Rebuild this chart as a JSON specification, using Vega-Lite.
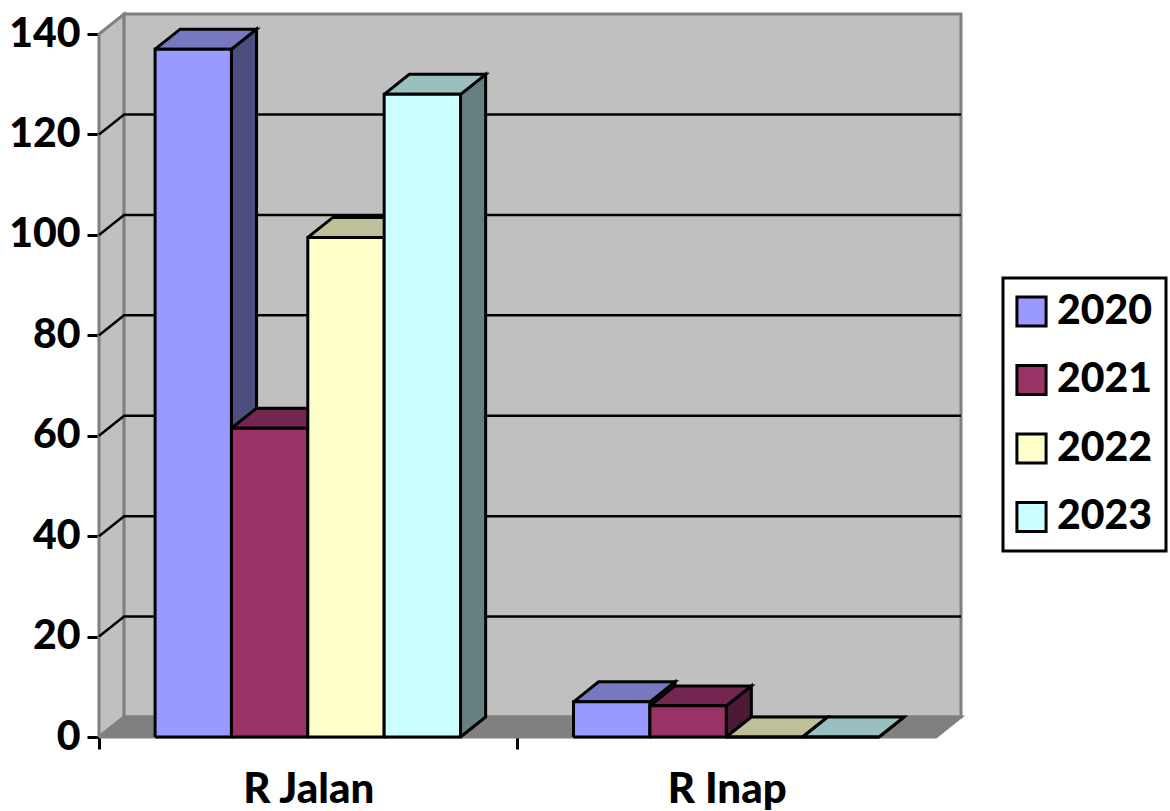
{
"$schema":"https://vega.github.io/schema/vega-lite/v6.json",
"width":862,"height":723,
"autosize":{"type":"none"},
"padding":{"left":99,"top":14,"right":209,"bottom":74},
"background":"white",
"config":{"view":{"stroke":null},"font":"Lato"},
"layer":[
{"data":{"values":[{"part":"left"},{"part":"back"},{"part":"floor"}]},
"transform":[
{"calculate":"datum.part=='left'?[[0,0,0],[0.06,3.98,1],[0.06,144,2],[0,140,3],[0,0,4]]:datum.part=='back'?[[0.06,3.98,0],[2.06,3.98,1],[2.06,144,2],[0.06,144,3],[0.06,3.98,4]]:[[0,0,0],[2,0,1],[2.06,3.98,2],[0.06,3.98,3],[0,0,4]]","as":"verts"},
{"flatten":["verts"]},
{"calculate":"datum.verts[0]","as":"px"},{"calculate":"datum.verts[1]","as":"py"},{"calculate":"datum.verts[2]","as":"i"}],
"mark":{"type":"line","stroke":"#808080","strokeWidth":3,"strokeJoin":"miter"},
"encoding":{
"x":{"field":"px","type":"quantitative","scale":{"domain":[0,2.06],"nice":false,"zero":false},
 "axis":{"title":null,"grid":false,"domain":false,"values":[0,0.5,1,1.5,2],"tickSize":12,"tickWidth":3,"tickColor":"black",
 "tickOpacity":{"condition":{"test":"datum.value==0||datum.value==1","value":1},"value":0},
 "labelExpr":"datum.value==0.5?'R Jalan':datum.value==1.5?'R Inap':''","labelFont":"Lato","labelFontWeight":900,"labelFontSize":42,"labelColor":"black","labelPadding":20,"labelOverlap":false,"labelBound":false,"labelFlush":false}},
"y":{"field":"py","type":"quantitative","scale":{"domain":[0,144],"nice":false,"zero":false},
 "axis":{"title":null,"grid":false,"domain":false,"values":[0,20,40,60,80,100,120,140],"tickSize":12,"tickWidth":3,"tickColor":"black","labelFont":"Lato","labelFontWeight":900,"labelFontSize":41,"labelColor":"black","labelPadding":7,"labelOverlap":false,"labelBound":false,"labelFlush":false}},
"detail":{"field":"part"},
"order":{"field":"i","type":"quantitative"},
"fill":{"field":"part","type":"nominal","scale":{"domain":["2020","2021","2022","2023","2020 top","2021 top","2022 top","2023 top","2020 side","2021 side","2022 side","2023 side","left","back","floor"],"range":["#9999FF","#993366","#FFFFCC","#CCFFFF","#7878C0","#732650","#BFBF99","#99BFBF","#4D4D80","#4D1A33","#808066","#668080","#C0C0C0","#C0C0C0","#808080"]},
"legend":{"title":null,"orient":"none","legendX":904,"legendY":264,"values":["2020","2021","2022","2023"],"symbolType":"square","symbolSize":850,"symbolStrokeColor":"black","symbolStrokeWidth":3,"symbolOffset":-5,"labelFont":"Lato","labelFontWeight":900,"labelFontSize":41,"labelColor":"black","labelOffset":5,"rowPadding":25.5,"padding":13,"strokeColor":"black","labelLimit":200,
"encode":{"symbols":{"update":{"fill":{"field":"value","scale":"fill"},"stroke":{"value":"black"},"opacity":{"value":1}}},"legend":{"update":{"strokeWidth":{"value":3}}}}}}
}},
{"data":{"values":[{"tick":20},{"tick":40},{"tick":60},{"tick":80},{"tick":100},{"tick":120}]},
"transform":[
{"calculate":"[[0,datum.tick,0],[0.06,datum.tick+3.98,1],[2.06,datum.tick+3.98,2]]","as":"verts"},
{"flatten":["verts"]},
{"calculate":"datum.verts[0]","as":"px"},{"calculate":"datum.verts[1]","as":"py"},{"calculate":"datum.verts[2]","as":"i"}],
"mark":{"type":"line","stroke":"black","strokeWidth":2.5},
"encoding":{"x":{"field":"px","type":"quantitative"},"y":{"field":"py","type":"quantitative"},"detail":{"field":"tick"},"order":{"field":"i","type":"quantitative"}}},
{"mark":{"type":"rule","stroke":"black","strokeWidth":3},"encoding":{"x":{"datum":0,"type":"quantitative"},"y":{"datum":0,"type":"quantitative"},"y2":{"datum":140}}},
{"data":{"values":[
{"category":"R Jalan","year":"2020","value":137},
{"category":"R Jalan","year":"2021","value":61.5},
{"category":"R Jalan","year":"2022","value":99.5},
{"category":"R Jalan","year":"2023","value":128},
{"category":"R Inap","year":"2020","value":7},
{"category":"R Inap","year":"2021","value":6.2},
{"category":"R Inap","year":"2022","value":0},
{"category":"R Inap","year":"2023","value":0}]},
"transform":[
{"calculate":"(datum.category=='R Jalan'?0:1)+0.134+0.1825*(toNumber(datum.year)-2020)","as":"x0"},
{"calculate":"datum.x0+0.1825","as":"x1"},
{"calculate":"[{f:'side',v:[[datum.x1,0,0],[datum.x1+0.06,3.98,1],[datum.x1+0.06,datum.value+3.98,2],[datum.x1,datum.value,3],[datum.x1,0,4]]},{f:'top',v:[[datum.x0,datum.value,0],[datum.x1,datum.value,1],[datum.x1+0.06,datum.value+3.98,2],[datum.x0+0.06,datum.value+3.98,3],[datum.x0,datum.value,4]]},{f:'front',v:[[datum.x0,0,0],[datum.x1,0,1],[datum.x1,datum.value,2],[datum.x0,datum.value,3],[datum.x0,0,4]]}]","as":"faces"},
{"flatten":["faces"]},
{"calculate":"datum.faces.f=='front'?datum.year:datum.year+' '+datum.faces.f","as":"part"},
{"calculate":"datum.category+' '+datum.year+' '+datum.faces.f","as":"g"},
{"calculate":"datum.faces.v","as":"verts"},
{"flatten":["verts"]},
{"calculate":"datum.verts[0]","as":"px"},{"calculate":"datum.verts[1]","as":"py"},{"calculate":"datum.verts[2]","as":"i"}],
"mark":{"type":"line","stroke":"black","strokeWidth":3,"strokeJoin":"miter"},
"encoding":{"x":{"field":"px","type":"quantitative"},"y":{"field":"py","type":"quantitative"},"detail":{"field":"g"},"order":{"field":"i","type":"quantitative"},
"fill":{"field":"part","type":"nominal"}}},
{"mark":{"type":"rule","stroke":"black","strokeWidth":3.5},"encoding":{"y":{"datum":0,"type":"quantitative"},"x":{"datum":0,"type":"quantitative"},"x2":{"datum":2}}}
]
}
